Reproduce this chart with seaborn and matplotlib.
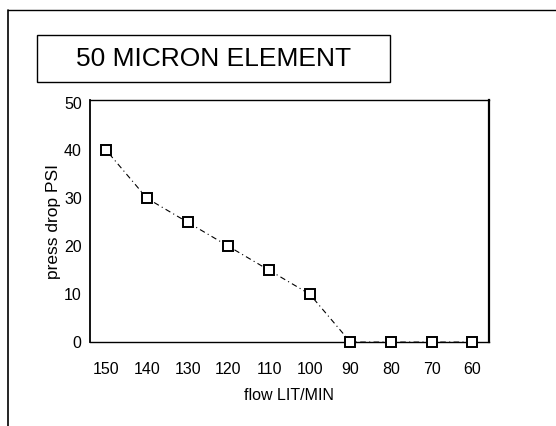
import numpy as np
import pandas as pd
import matplotlib
matplotlib.use('Agg')
import matplotlib.pyplot as plt
import seaborn as sns
from matplotlib.lines import Line2D
from matplotlib.patches import Rectangle

# values
flow = [150, 140, 130, 120, 110, 100, 90, 80, 70, 60]
press_drop = [40, 30, 25, 20, 15, 10, 0, 0, 0, 0]
x_ticks = [150, 140, 130, 120, 110, 100, 90, 80, 70, 60]
y_ticks = [0, 10, 20, 30, 40, 50]
title = '50 MICRON ELEMENT'

df = pd.DataFrame({'flow': flow, 'press': press_drop})

sns.set_style('white')
plt.rcParams['font.family'] = ['Liberation Sans Narrow', 'Liberation Sans', 'DejaVu Sans']
plt.rcParams['text.color'] = 'black'
plt.rcParams['axes.labelcolor'] = 'black'

fig = plt.figure(figsize=(5.56, 4.26), dpi=100)
ax = fig.add_axes([0.162, 0.197, 0.717, 0.568])

sns.lineplot(data=df, x='flow', y='press', ax=ax, color='black', lw=0.8,
             linestyle=(0, (5, 3, 1, 3)), marker='s', markersize=7,
             markerfacecolor='white', markeredgecolor='black', markeredgewidth=1.4,
             clip_on=False, zorder=5)

ax.set_xlim(154, 56)
ax.set_ylim(0, 50.5)
ax.set_xticks(x_ticks)
ax.set_yticks(y_ticks)
ax.tick_params(axis='both', direction='in', length=6, width=1, colors='black',
               labelsize=11.5, pad=6)
ax.tick_params(axis='x', pad=14)
for s in ax.spines.values():
    s.set_color('black')
    s.set_linewidth(1)
ax.spines['left'].set_linewidth(1.3)
ax.spines['right'].set_linewidth(1.6)

ax.set_xlabel('flow LIT/MIN', fontsize=11.5, labelpad=8)
ax.set_ylabel('press drop PSI', fontsize=12.5, labelpad=2)

# title box
fig.add_artist(Rectangle((0.067, 0.808), 0.634, 0.11, transform=fig.transFigure,
                         fill=False, edgecolor='black', lw=1))
fig.text(0.384, 0.862, title, fontsize=19, ha='center', va='center')

# outer page frame
fig.add_artist(Line2D([0.015, 0.015], [0.0, 0.977], color='black', lw=1.2,
                      transform=fig.transFigure))
fig.add_artist(Line2D([0.015, 1.0], [0.977, 0.977], color='black', lw=1.0,
                      transform=fig.transFigure))

fig.savefig('out.png', dpi=100)
